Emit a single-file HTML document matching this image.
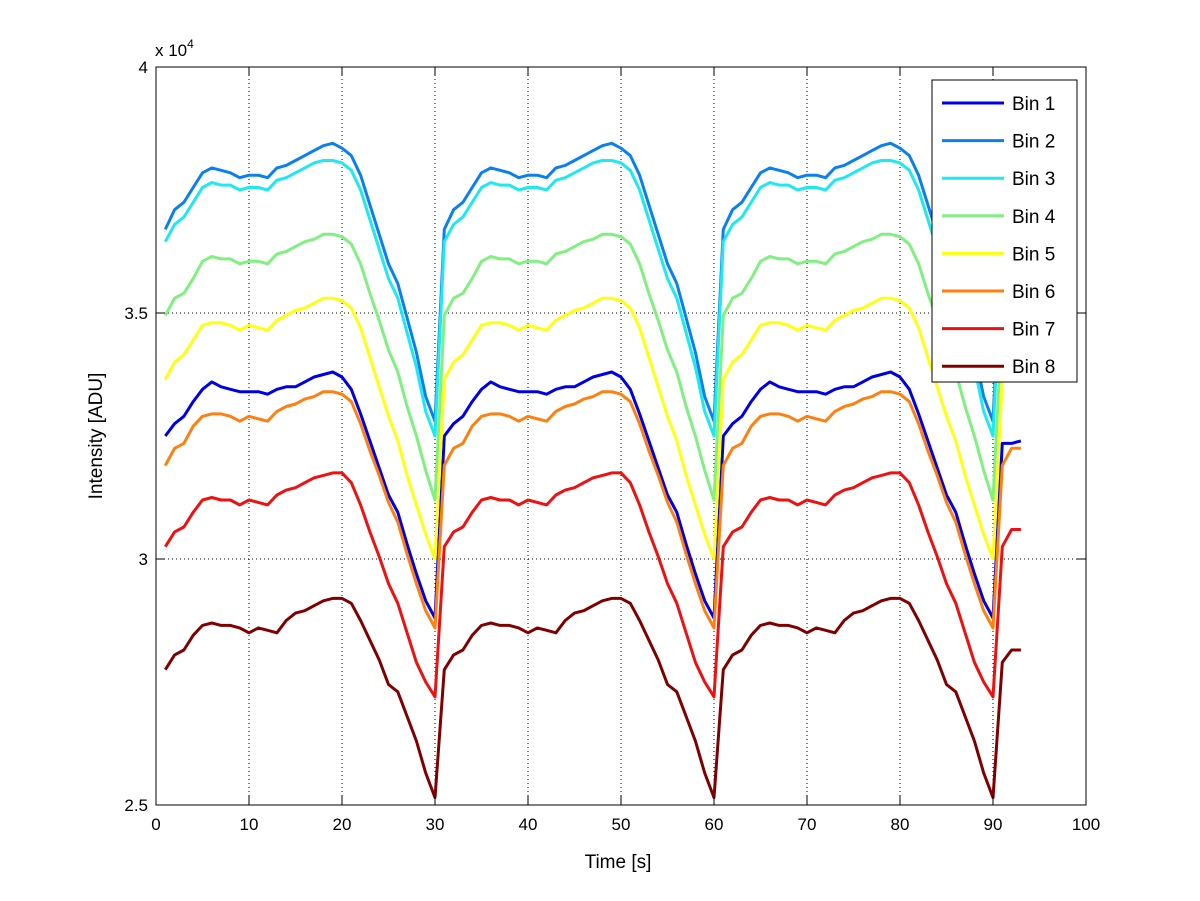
<!DOCTYPE html>
<html><head><meta charset="utf-8"><style>
body{margin:0;background:#fff;}
svg{display:block;font-family:"Liberation Sans",sans-serif;}
</style></head><body>
<svg id="chart" width="1200" height="901" viewBox="0 0 1200 901" xmlns="http://www.w3.org/2000/svg"></svg>
<script>
const xTicks=[0,10,20,30,40,50,60,70,80,90,100];
const yTicks=[25000,30000,35000,40000];
const yTickLabels=["2.5","3","3.5","4"];
const binNames=["Bin 1","Bin 2","Bin 3","Bin 4","Bin 5","Bin 6","Bin 7","Bin 8"];
const binColors=["#0000e6","#0a80f0","#1ee8f0","#80f080","#ffff10","#ff8010","#f01010","#800000"];
const bin1=[32500,32750,32900,33200,33450,33600,33500,33450,33400,33400,33400,33350,33450,33500,33500,33600,33700,33750,33800,33700,33450,32950,32400,31850,31300,30950,30300,29700,29150,28800,
32500,32750,32900,33200,33450,33600,33500,33450,33400,33400,33400,33350,33450,33500,33500,33600,33700,33750,33800,33700,33450,32950,32400,31850,31300,30950,30300,29700,29150,28800,
32500,32750,32900,33200,33450,33600,33500,33450,33400,33400,33400,33350,33450,33500,33500,33600,33700,33750,33800,33700,33450,32950,32400,31850,31300,30950,30300,29700,29150,28800,
32350,32350,32400];
const bin2=[36700,37100,37250,37550,37850,37950,37900,37850,37750,37800,37800,37750,37950,38000,38100,38200,38300,38400,38450,38350,38200,37800,37200,36600,36000,35600,34900,34200,33300,32800,
36700,37100,37250,37550,37850,37950,37900,37850,37750,37800,37800,37750,37950,38000,38100,38200,38300,38400,38450,38350,38200,37800,37200,36600,36000,35600,34900,34200,33300,32800,
36700,37100,37250,37550,37850,37950,37900,37850,37750,37800,37800,37750,37950,38000,38100,38200,38300,38400,38450,38350,38200,37800,37200,36600,36000,35600,34900,34200,33300,32800,
36700,37100,37250];
const bin3=[36450,36800,36950,37250,37550,37650,37600,37600,37500,37550,37550,37500,37700,37750,37850,37950,38050,38100,38100,38050,37900,37500,36900,36300,35700,35300,34600,33900,33000,32500,
36450,36800,36950,37250,37550,37650,37600,37600,37500,37550,37550,37500,37700,37750,37850,37950,38050,38100,38100,38050,37900,37500,36900,36300,35700,35300,34600,33900,33000,32500,
36450,36800,36950,37250,37550,37650,37600,37600,37500,37550,37550,37500,37700,37750,37850,37950,38050,38100,38100,38050,37900,37500,36900,36300,35700,35300,34600,33900,33000,32500,
36450,36800,36950];
const bin4=[34950,35300,35400,35700,36050,36150,36100,36100,36000,36050,36050,36000,36200,36250,36350,36450,36500,36600,36600,36550,36400,36000,35400,34850,34250,33800,33100,32500,31800,31200,
34950,35300,35400,35700,36050,36150,36100,36100,36000,36050,36050,36000,36200,36250,36350,36450,36500,36600,36600,36550,36400,36000,35400,34850,34250,33800,33100,32500,31800,31200,
34950,35300,35400,35700,36050,36150,36100,36100,36000,36050,36050,36000,36200,36250,36350,36450,36500,36600,36600,36550,36400,36000,35400,34850,34250,33800,33100,32500,31800,31200,
34950,35300,35400];
const bin5=[33650,34000,34150,34450,34750,34800,34800,34750,34650,34750,34700,34650,34850,34950,35050,35100,35200,35300,35300,35250,35100,34700,34100,33500,32900,32400,31700,31100,30500,30000,
33650,34000,34150,34450,34750,34800,34800,34750,34650,34750,34700,34650,34850,34950,35050,35100,35200,35300,35300,35250,35100,34700,34100,33500,32900,32400,31700,31100,30500,30000,
33650,34000,34150,34450,34750,34800,34800,34750,34650,34750,34700,34650,34850,34950,35050,35100,35200,35300,35300,35250,35100,34700,34100,33500,32900,32400,31700,31100,30500,30000,
33650,34000,34150];
const bin6=[31900,32250,32350,32700,32900,32950,32950,32900,32800,32900,32850,32800,33000,33100,33150,33250,33300,33400,33400,33350,33200,32750,32200,31700,31150,30750,30100,29500,28950,28600,
31900,32250,32350,32700,32900,32950,32950,32900,32800,32900,32850,32800,33000,33100,33150,33250,33300,33400,33400,33350,33200,32750,32200,31700,31150,30750,30100,29500,28950,28600,
31900,32250,32350,32700,32900,32950,32950,32900,32800,32900,32850,32800,33000,33100,33150,33250,33300,33400,33400,33350,33200,32750,32200,31700,31150,30750,30100,29500,28950,28600,
31900,32250,32250];
const bin7=[30250,30550,30650,30950,31200,31250,31200,31200,31100,31200,31150,31100,31300,31400,31450,31550,31650,31700,31750,31750,31550,31100,30550,30050,29500,29100,28500,27900,27500,27200,
30250,30550,30650,30950,31200,31250,31200,31200,31100,31200,31150,31100,31300,31400,31450,31550,31650,31700,31750,31750,31550,31100,30550,30050,29500,29100,28500,27900,27500,27200,
30250,30550,30650,30950,31200,31250,31200,31200,31100,31200,31150,31100,31300,31400,31450,31550,31650,31700,31750,31750,31550,31100,30550,30050,29500,29100,28500,27900,27500,27200,
30250,30600,30600];
const bin8=[27750,28050,28150,28450,28650,28700,28650,28650,28600,28500,28600,28550,28500,28750,28900,28950,29050,29150,29200,29200,29100,28750,28350,27950,27450,27300,26800,26300,25650,25150,
27750,28050,28150,28450,28650,28700,28650,28650,28600,28500,28600,28550,28500,28750,28900,28950,29050,29150,29200,29200,29100,28750,28350,27950,27450,27300,26800,26300,25650,25150,
27750,28050,28150,28450,28650,28700,28650,28650,28600,28500,28600,28550,28500,28750,28900,28950,29050,29150,29200,29200,29100,28750,28350,27950,27450,27300,26800,26300,25650,25150,
27900,28150,28150];
const series=[bin1,bin2,bin3,bin4,bin5,bin6,bin7,bin8];

const L=156,R=1086,T=67,B=805;
const xs=v=>L+(v-0)/(100-0)*(R-L);
const ys=v=>B-(v-25000)/(40000-25000)*(B-T);
const NS="http://www.w3.org/2000/svg";
const svg=document.getElementById('chart');
function mk(tag,attrs,parent){const e=document.createElementNS(NS,tag);for(const k in attrs)e.setAttribute(k,attrs[k]);(parent||svg).appendChild(e);return e;}

mk('rect',{x:L,y:T,width:R-L,height:B-T,fill:'#fff'});
const grid=mk('g',{});


xTicks.forEach(t=>{if(t>0&&t<100){const l=mk('line',{x1:xs(t),x2:xs(t),y1:T,y2:B,stroke:'#000','stroke-width':1,'stroke-dasharray':'1,3'},grid);}});
yTicks.forEach(t=>{if(t>25000&&t<40000){const l=mk('line',{x1:L,x2:R,y1:ys(t),y2:ys(t),stroke:'#000','stroke-width':1,'stroke-dasharray':'1,3'},grid);}});

series.forEach((d,i)=>{
  const pts=d.map((v,j)=>xs(j+1).toFixed(1)+','+ys(v).toFixed(1)).join(' ');
  const p=mk('polyline',{points:pts,fill:'none',stroke:binColors[i],'stroke-width':3,'stroke-linejoin':'round'});
  
  
});

const box=mk('rect',{x:L,y:T,width:R-L,height:B-T,fill:'none',stroke:'#000','stroke-width':1});


xTicks.forEach(t=>{
  mk('line',{x1:xs(t),x2:xs(t),y1:B,y2:B-9,stroke:'#000'});
  mk('line',{x1:xs(t),x2:xs(t),y1:T,y2:T+9,stroke:'#000'});
  const tx=mk('text',{x:xs(t),y:B+25,'font-size':17,'text-anchor':'middle'});tx.textContent=t;
  
  
});
yTicks.forEach((t,i)=>{
  mk('line',{x1:L,x2:L+9,y1:ys(t),y2:ys(t),stroke:'#000'});
  mk('line',{x1:R,x2:R-9,y1:ys(t),y2:ys(t),stroke:'#000'});
  const tx=mk('text',{x:L-8,y:ys(t)+6,'font-size':17,'text-anchor':'end'});tx.textContent=yTickLabels[i];
  
  
});
const ex=mk('text',{x:155,y:56,'font-size':17});ex.innerHTML='x 10<tspan dy="-8" font-size="12">4</tspan>';


const xt=mk('text',{x:618,y:868,'font-size':19,'text-anchor':'middle'});xt.textContent='Time [s]';


const yt=mk('text',{x:0,y:0,'font-size':19,'text-anchor':'middle',transform:'translate(102,436) rotate(-90)'});yt.textContent='Intensity [ADU]';



const lg=mk('g',{});


mk('rect',{x:932,y:80,width:145,height:302,fill:'#fff',stroke:'#000','stroke-width':1},lg);
binNames.forEach((n,i)=>{
  const y=103+i*37.6;
  const g=mk('g',{},lg);
  
  
  mk('line',{x1:942,x2:1004,y1:y,y2:y,stroke:binColors[i],'stroke-width':3},g);
  const t=mk('text',{x:1012,y:y+7,'font-size':19},g);t.textContent=n;
});
</script>
</body></html>
